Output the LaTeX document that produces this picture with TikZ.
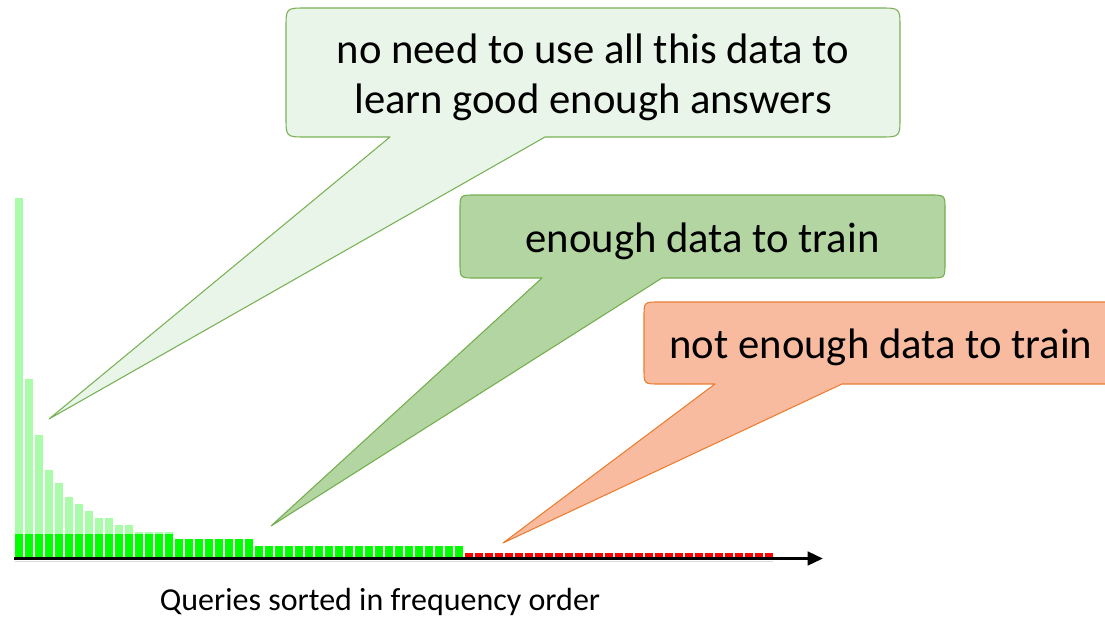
\documentclass[tikz,border=0pt]{standalone}
\usepackage{fontspec}
\setmainfont{Carlito}
\usetikzlibrary{arrows.meta}

\definecolor{barlight}{HTML}{AAFCAA}
\definecolor{barmain}{HTML}{00FF00}
\definecolor{barred}{HTML}{FF0000}
\definecolor{paleFill}{HTML}{EAF5E9}
\definecolor{paleLine}{HTML}{79B256}
\definecolor{midFill}{HTML}{B3D5A2}
\definecolor{midLine}{HTML}{74AE4E}
\definecolor{warmFill}{HTML}{F8BBA0}
\definecolor{warmLine}{HTML}{ED7D31}

\tikzset{
  bubbleA/.style={fill=paleFill, draw=paleLine, line width=0.8pt, line join=round},
  bubbleB/.style={fill=midFill, draw=midLine, line width=0.8pt, line join=round},
  bubbleC/.style={fill=warmFill, draw=warmLine, line width=0.8pt, line join=round},
  bigtext/.style={font=\fontsize{32}{37.5}\selectfont, align=center, inner sep=0pt},
  axisline/.style={line width=2.6pt, -{Triangle[length=11.5pt,width=10pt]}},
}

\begin{document}
\begin{tikzpicture}[x=0.75pt, y=-0.75pt]
\useasboundingbox (0,0) rectangle (1105,617);
\begin{scope}
\clip (0,0) rectangle (1105,617);

% light upper parts of the head bars
\foreach \h [count=\i] in {198,379,435,470,483,497,504,511,518,518,525,525,532,532,532,532}
  \fill[barlight] ({15+10*(\i-1)},\h) rectangle ({23+10*(\i-1)},534);

% bright green base bars
\foreach \i in {1,...,16}
  \fill[barmain] ({15+10*(\i-1)},534) rectangle ({23+10*(\i-1)},557);
\foreach \i in {17,...,24}
  \fill[barmain] ({15+10*(\i-1)},539.3) rectangle ({23+10*(\i-1)},557);
\foreach \i in {25,...,45}
  \fill[barmain] ({15+10*(\i-1)},546) rectangle ({23+10*(\i-1)},557);
% red tail bars
\foreach \i in {46,...,76}
  \fill[barred] ({15+10*(\i-1)},552.5) rectangle ({23+10*(\i-1)},557);

% axis with its soft shadow
\coordinate (o) at (14,558.5);
\coordinate (xend) at (823,558.5);
\draw[black!15, line width=1pt] (15,561.5) -- (773,561.5);
\draw[axisline] (o) -- (xend);

\node[font=\fontsize{24}{29}\selectfont, inner sep=0pt] (lbl) at (380,601.5) {Queries sorted in frequency order};

% callout: head of the distribution
\coordinate (tipA) at (49,419);
\path[bubbleA] (545,137) -- (880,137) .. controls (900,137) .. (900,117)
  -- (900,28) .. controls (900,8) .. (880,8)
  -- (306,8) .. controls (286,8) .. (286,28)
  -- (286,117) .. controls (286,137) .. (306,137)
  -- (390,137) -- (tipA) -- cycle;
\node[bigtext] (tA) at (593,77) {no need to use all this data to\\learn good enough answers};

% callout: middle of the distribution
\coordinate (tipB) at (271,526);
\path[bubbleB] (662,278) -- (930,278) .. controls (945,278) .. (945,263)
  -- (945,210) .. controls (945,195) .. (930,195)
  -- (475,195) .. controls (460,195) .. (460,210)
  -- (460,263) .. controls (460,278) .. (475,278)
  -- (542,278) -- (tipB) -- cycle;
\node[bigtext] (tB) at (702.5,241) {enough data to train};

% callout: long tail
\coordinate (tipC) at (503,543);
\path[bubbleC] (842,384) -- (1105,384) -- (1120,384) -- (1120,302)
  -- (659,302) .. controls (644,302) .. (644,317)
  -- (644,369) .. controls (644,384) .. (659,384)
  -- (715,384) -- (tipC) -- cycle;
\node[bigtext] (tC) at (881,347.5) {not enough data to train};
\end{scope}
\end{tikzpicture}
\end{document}
